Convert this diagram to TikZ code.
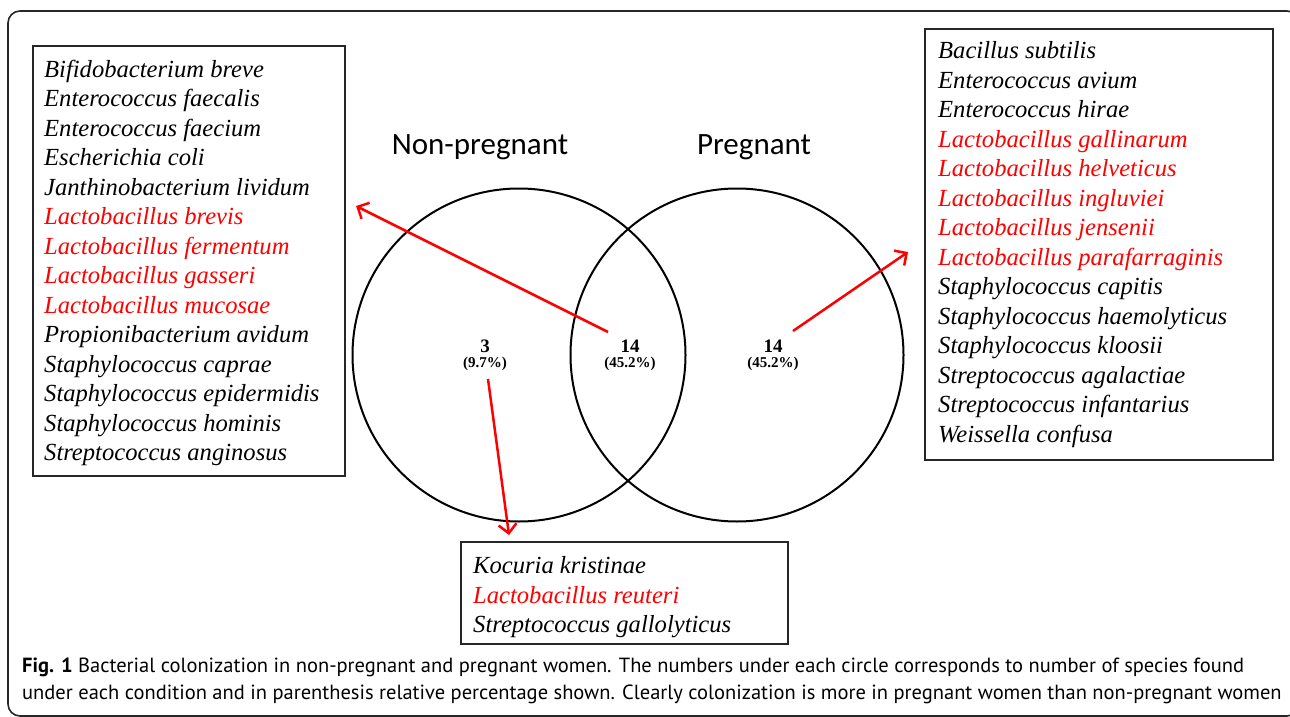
\documentclass[tikz,border=0pt]{standalone}
\usepackage{fontspec}
\setmainfont{Liberation Serif}
\newfontfamily\labfont{Carlito}
\newfontfamily\capfont{PT Sans}
\usetikzlibrary{arrows.meta}
\begin{document}
\begin{tikzpicture}[x=1pt,y=-1pt,
  listtext/.style={anchor=north west, inner sep=0pt, align=left, font=\fontsize{24.6}{29.5}\selectfont\itshape},
  boxframe/.style={draw=black!85, line width=1.5pt},
  venn/.style={draw=black, line width=2pt},
  redarrow/.style={draw=red, line width=2.5pt, -{Straight Barb[length=9pt,width=18pt,line width=2.5pt]}},
  groupname/.style={font=\fontsize{31}{36}\selectfont\labfont, inner sep=0pt},
  countnum/.style={font=\fontsize{19}{20}\selectfont\bfseries, inner sep=0pt},
  countpct/.style={font=\fontsize{15}{16}\selectfont\bfseries, inner sep=0pt},
  captext/.style={anchor=west, inner sep=0pt, font=\fontsize{20.5}{24}\selectfont\capfont},
]
\useasboundingbox (0,0) rectangle (1290,717);
\begin{scope}
\clip (0,0) rectangle (1290,717);
\draw[black!85, line width=1.6pt, rounded corners=12pt] (8,11) rectangle (1299,716);
\end{scope}

% boxes
\draw[boxframe] (33,46) rectangle (345,476);
\draw[boxframe] (925,29) rectangle (1273,460);
\draw[boxframe] (461,542) rectangle (788,644);

% circles
\node[venn, circle, minimum size=333pt, inner sep=0pt] (cl) at (519,355) {};
\node[venn, circle, minimum size=333pt, inner sep=0pt] (cr) at (737,355) {};

\node[groupname] (lnp) at (480,147) {Non-pregnant};
\node[groupname] (lp) at (754,147) {Pregnant};

\node[countnum] (n1) at (485,346) {3};
\node[countpct] (p1) at (485,364) {(9.7\%)};
\node[countnum] (n2) at (630,346) {14};
\node[countpct] (p2) at (630,364) {(45.2\%)};
\node[countnum] (n3) at (773,346) {14};
\node[countpct] (p3) at (773,364) {(45.2\%)};

% lists
\node[listtext] (leftlist) at (44,59.5) {Bifidobacterium breve\\
Enterococcus faecalis\\
Enterococcus faecium\\
Escherichia coli\\
Janthinobacterium lividum\\
\textcolor{red}{Lactobacillus brevis}\\
\textcolor{red}{Lactobacillus fermentum}\\
\textcolor{red}{Lactobacillus gasseri}\\
\textcolor{red}{Lactobacillus mucosae}\\
Propionibacterium avidum\\
Staphylococcus caprae\\
Staphylococcus epidermidis\\
Staphylococcus hominis\\
Streptococcus anginosus};

\node[listtext] (rightlist) at (938,41.5) {Bacillus subtilis\\
Enterococcus avium\\
Enterococcus hirae\\
\textcolor{red}{Lactobacillus gallinarum}\\
\textcolor{red}{Lactobacillus helveticus}\\
\textcolor{red}{Lactobacillus ingluviei}\\
\textcolor{red}{Lactobacillus jensenii}\\
\textcolor{red}{Lactobacillus parafarraginis}\\
Staphylococcus capitis\\
Staphylococcus haemolyticus\\
Staphylococcus kloosii\\
Streptococcus agalactiae\\
Streptococcus infantarius\\
Weissella confusa};

\node[listtext] (botlist) at (473,556.5) {Kocuria kristinae\\
\textcolor{red}{Lactobacillus reuteri}\\
Streptococcus gallolyticus};

% arrows
\coordinate (t1) at (356,206);
\coordinate (t2) at (908,252);
\coordinate (t3) at (509,535);
\coordinate (s1) at (608,332);
\coordinate (s2) at (793,331);
\coordinate (s3) at (488,379);
\draw[redarrow] (s1) -- (t1);
\draw[redarrow] (s2) -- (t2);
\draw[redarrow] (s3) -- (t3);

% caption
\node[captext] (cap1) at (22,667) {\textbf{Fig. 1} Bacterial colonization in non-pregnant and pregnant women. The numbers under each circle corresponds to number of species found};
\node[captext] (cap2) at (22,694) {under each condition and in parenthesis relative percentage shown. Clearly colonization is more in pregnant women than non-pregnant women};
\end{tikzpicture}
\end{document}
